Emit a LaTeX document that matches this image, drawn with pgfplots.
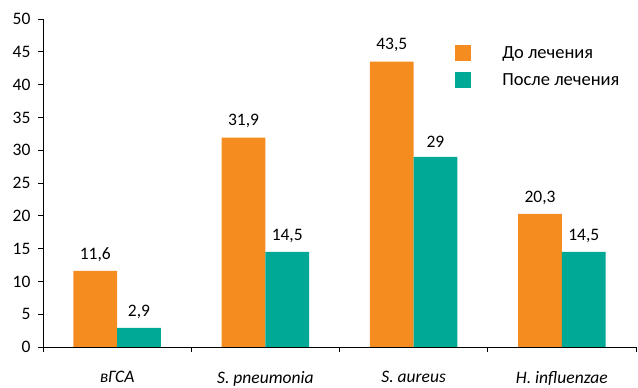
\documentclass[border=0pt]{standalone}
\usepackage{fontspec}
\setmainfont{Carlito}
\usepackage{pgfplots}
\pgfplotsset{compat=1.18}
\definecolor{cOr}{RGB}{245,140,32}
\definecolor{cTe}{RGB}{0,168,150}
\begin{document}
\begin{tikzpicture}[x=1pt,y=1pt,font=\fontsize{17.5}{20}\selectfont]
\useasboundingbox (-43,-41) rectangle (595,347);
\begin{axis}[
  at={(0,0)}, anchor=south west,
  scale only axis, width=593pt, height=328pt,
  xmin=-0.5, xmax=3.5, ymin=0, ymax=50,
  ytick={0,5,...,50},
  /pgf/number format/assume math mode=true,
  every tick label/.append style={font=\fontsize{17.5}{20}\selectfont},
  y tick label style={xshift=-4pt},
  axis x line*=bottom, axis y line*=left,
  axis line style={black, line width=0.8pt, -},
  tick style={black, line width=0.8pt},
  major tick length=5pt, minor tick length=5pt,
  tick align=outside,
  xtick={0,1,2,3},
  xticklabels={вГСА, S. pneumonia, S. aureus, H. influenzae},
  x tick label style={font=\fontsize{17.5}{20}\selectfont\itshape, yshift=-16pt},
  x tick style={draw=none},
  minor xtick={-0.5,0.5,1.5,2.5,3.5},
  minor x tick style={draw=black, line width=0.8pt},
  ybar=0pt, bar width=0.295,
  nodes near coords={\pgfmathprintnumber[use comma, fixed, precision=1, assume math mode=true]{\pgfplotspointmeta}},
  every node near coord/.append style={yshift=6pt, black, font=\fontsize{17.5}{20}\selectfont},
  legend style={at={(0.695,0.921)}, anchor=north west, draw=none, fill=none,
     row sep=11pt, inner sep=0pt,
     font=\fontsize{18.5}{20}\selectfont,
     nodes={inner sep=0pt, anchor=west}},
  legend cell align=left,
  legend image code/.code={\fill[#1] (0pt,-8pt) rectangle (16pt,8pt); \path[draw=none,fill=none] (0pt,-1pt) rectangle (47pt,1pt);},
  clip=false,
]
\addplot[fill=cOr, draw=none] coordinates {(0,11.6) (1,31.9) (2,43.5) (3,20.3)};
\addplot[fill=cTe, draw=none] coordinates {(0,2.9) (1,14.5) (2,29) (3,14.5)};
\legend{До лечения, После лечения}
\end{axis}
\end{tikzpicture}
\end{document}
